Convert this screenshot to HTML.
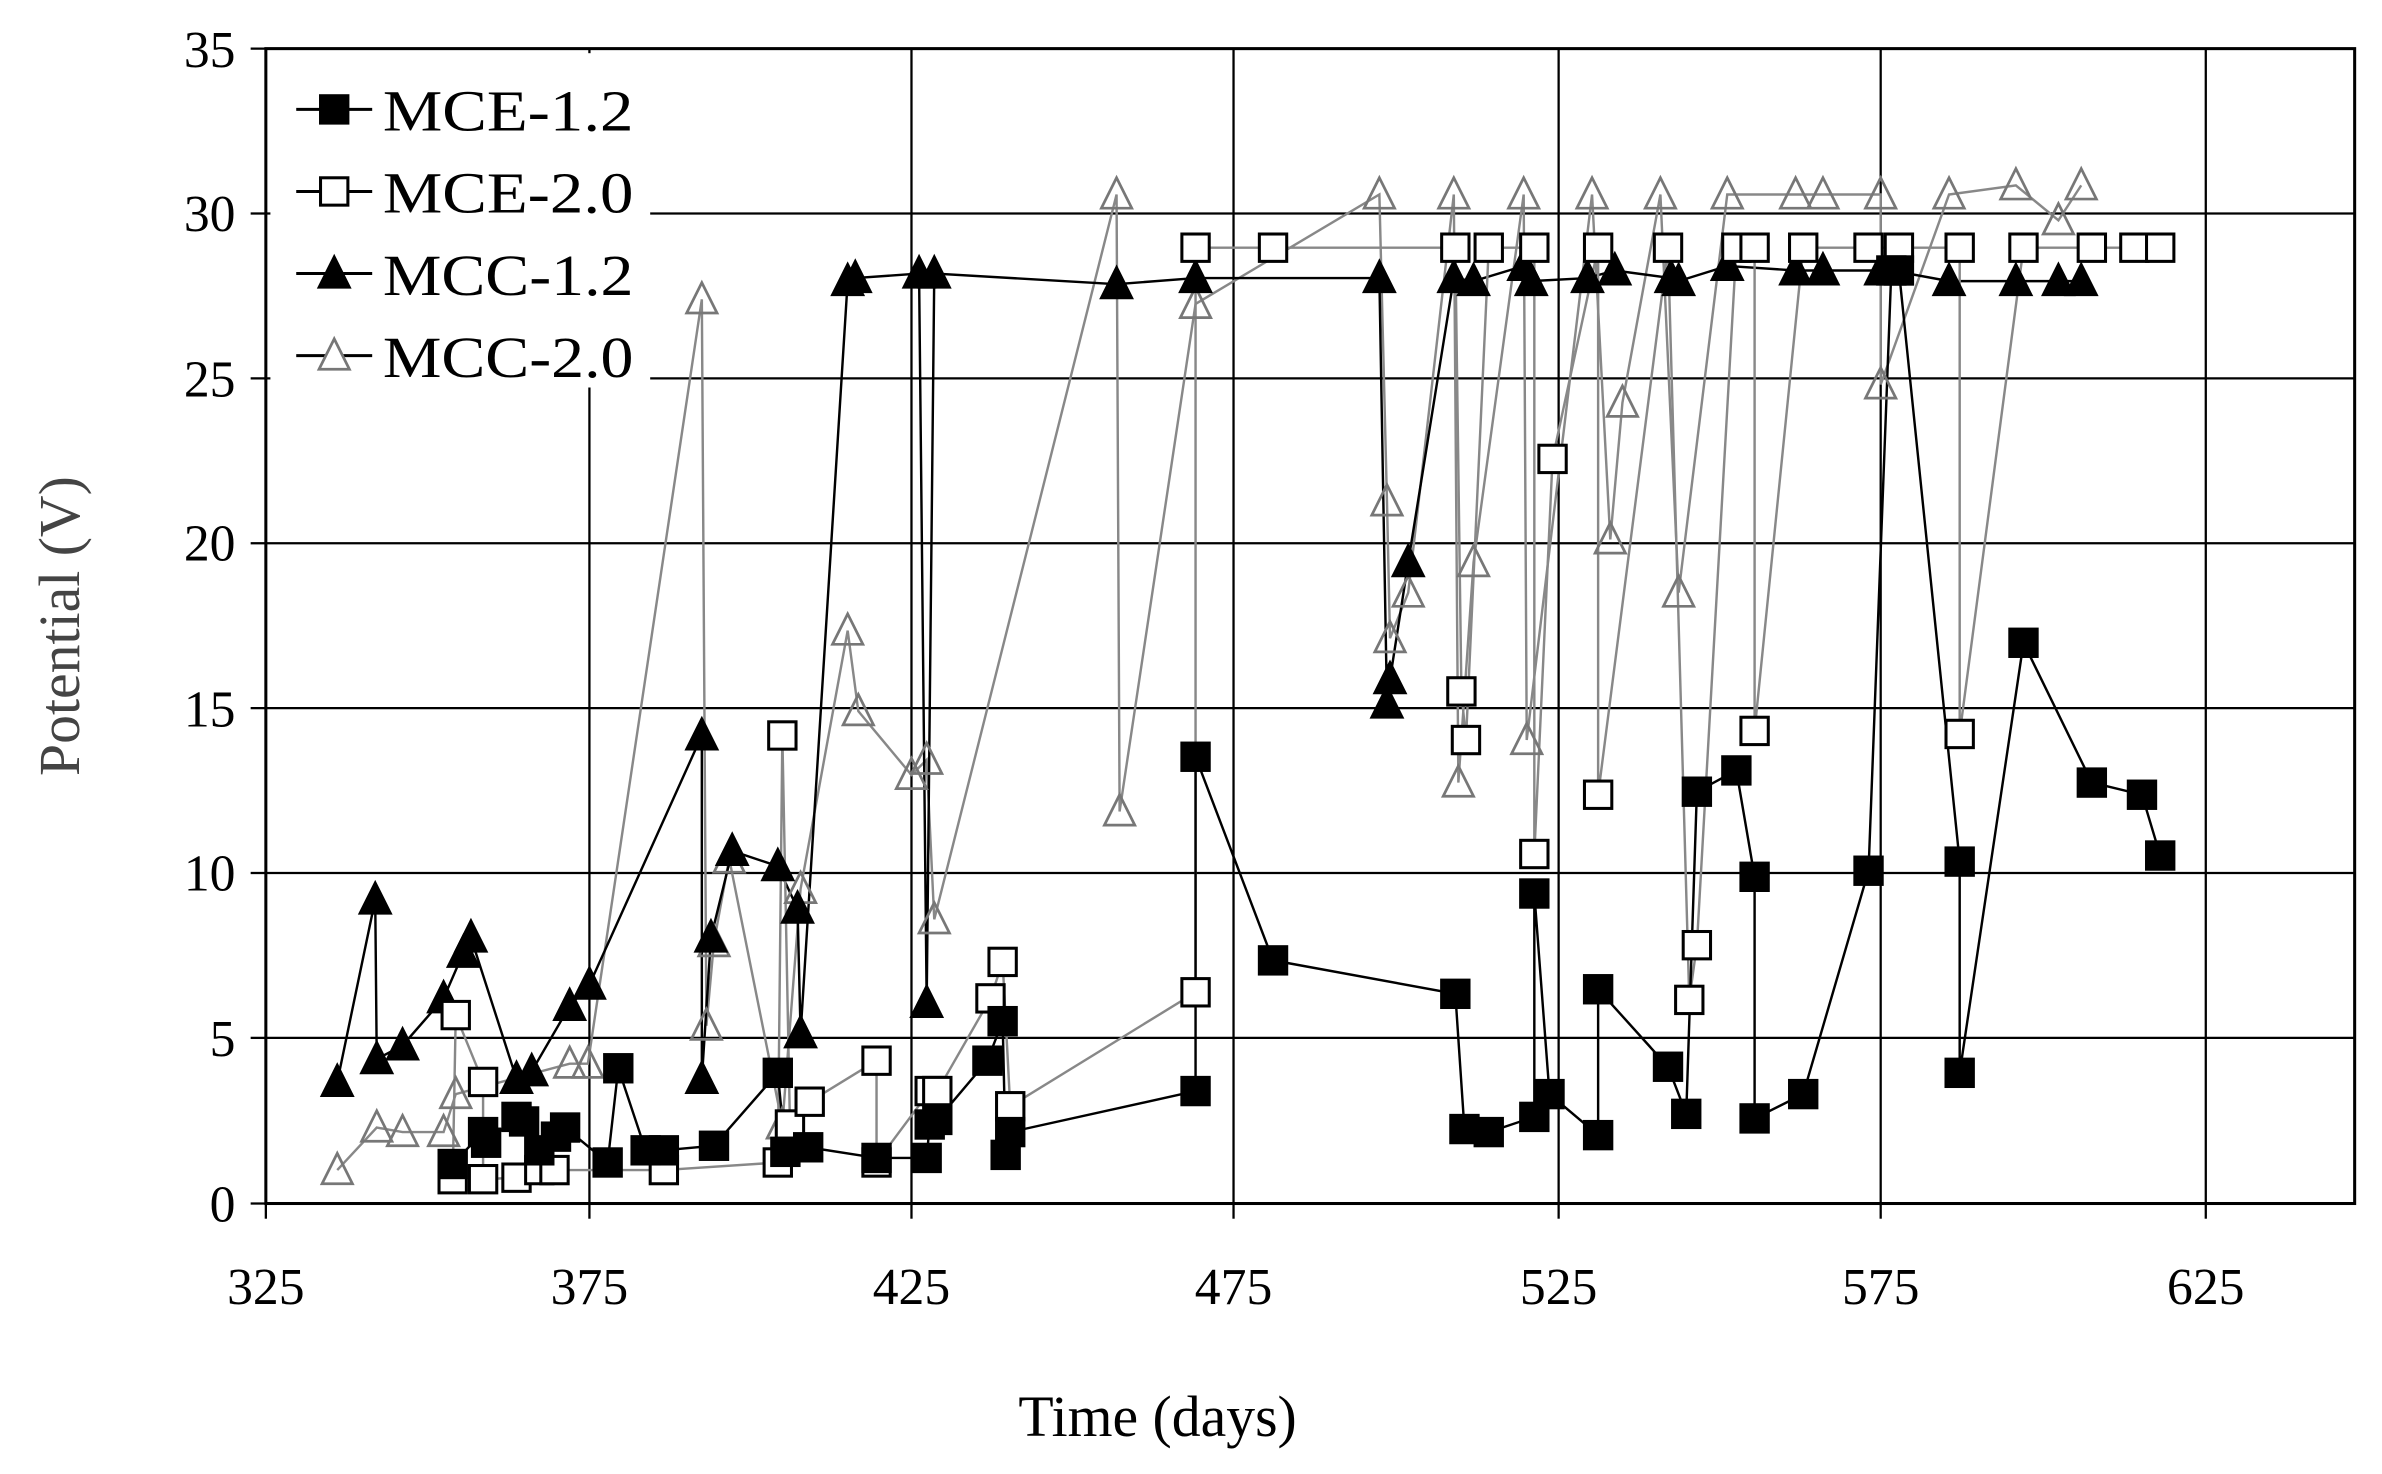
<!DOCTYPE html>
<html><head><meta charset="utf-8"><style>
html,body{margin:0;padding:0;background:#fff}
svg{display:block}
text{font-family:"Liberation Serif",serif}
</style></head><body>
<svg id="s" width="2382" height="1474" viewBox="0 0 1568 970" preserveAspectRatio="none" xmlns="http://www.w3.org/2000/svg">
<rect width="1568" height="970" fill="#fff"/>
<g stroke="#000" stroke-width="1.5" fill="none">
<line x1="175" y1="32" x2="1550" y2="32"/>
<line x1="175" y1="140.5" x2="1550" y2="140.5"/>
<line x1="175" y1="249" x2="1550" y2="249"/>
<line x1="175" y1="357.5" x2="1550" y2="357.5"/>
<line x1="175" y1="466" x2="1550" y2="466"/>
<line x1="175" y1="574.5" x2="1550" y2="574.5"/>
<line x1="175" y1="683" x2="1550" y2="683"/>
<line x1="388" y1="32" x2="388" y2="792"/>
<line x1="600" y1="32" x2="600" y2="792"/>
<line x1="812" y1="32" x2="812" y2="792"/>
<line x1="1026" y1="32" x2="1026" y2="792"/>
<line x1="1238" y1="32" x2="1238" y2="792"/>
<line x1="1452" y1="32" x2="1452" y2="792"/>
<rect x="175" y="32" width="1375" height="760" stroke-width="2"/>
</g>
<g id="ticks" stroke="#000" stroke-width="1.5"></g>
<g font-size="34" fill="#000" text-anchor="end">
<text x="155" y="44">35</text><text x="155" y="152">30</text><text x="155" y="261">25</text><text x="155" y="369">20</text><text x="155" y="478">15</text><text x="155" y="586">10</text><text x="155" y="695">5</text><text x="155" y="804">0</text>
</g>
<g font-size="34" fill="#000" text-anchor="middle">
<text x="175" y="858">325</text><text x="388" y="858">375</text><text x="600" y="858">425</text><text x="812" y="858">475</text><text x="1026" y="858">525</text><text x="1238" y="858">575</text><text x="1452" y="858">625</text>
<text x="762" y="945" font-size="38">Time (days)</text>
<text transform="translate(52,412) rotate(-90)" font-size="38" fill="#444">Potential (V)</text>
</g>
<rect x="178" y="35" width="250" height="220" fill="#fff"/>
<g id="plot"></g>
<g id="leg"></g>
<g font-size="38" fill="#000">
<text x="252" y="86" textLength="165" lengthAdjust="spacingAndGlyphs">MCE-1.2</text><text x="252" y="140" textLength="165" lengthAdjust="spacingAndGlyphs">MCE-2.0</text><text x="252" y="194" textLength="165" lengthAdjust="spacingAndGlyphs">MCC-1.2</text><text x="252" y="248" textLength="165" lengthAdjust="spacingAndGlyphs">MCC-2.0</text>
</g>
</svg>
<script>
var NS="http://www.w3.org/2000/svg";
function el(p,t,a){var e=document.createElementNS(NS,t);for(var k in a)e.setAttribute(k,a[k]);p.appendChild(e);return e;}
var plot=document.getElementById('plot');
function pts(s){var a=s.trim().split(/\s+/);var r=[];for(var i=0;i<a.length;i+=2)r.push([+a[i],+a[i+1]]);return r;}
var S=[
{c:"#888",fill:"none",m:"tri",d:pts("222 770 248 742 265 745 292 745 300 720 375 700 387 700 462 197 465 675 470 620 480 565 515 740 527 585 558 415 565 468 600 510 610 500 615 605 735 128 737 534 787 200 908 128 913 330 915 420 927 390 957 128 960 515 970 370 1003 128 1005 487 1048 128 1060 355 1068 265 1093 128 1105 390 1137 128 1182 128 1200 128 1238 128 1238 253 1283 128 1327 122 1355 145 1370 122")},
{c:"#000",fill:"#000",m:"tri",d:pts("222 712 247 592 248 697 265 688 292 657 305 627 310 617 340 710 350 705 375 662 388 648 462 484 462 710 468 617 482 560 512 570 525 598 527 680 558 185 563 183 605 180 610 660 615 180 735 187 787 183 908 183 913 463 915 447 927 370 957 183 970 185 1003 175 1008 185 1045 183 1063 178 1100 183 1105 185 1137 175 1182 178 1200 178 1238 178 1245 178 1283 185 1327 185 1355 185 1370 185")},
{c:"#888",fill:"#fff",m:"sq",d:pts("298 776 300 668 318 712 318 776 340 775 355 770 365 770 437 770 512 765 515 484 520 740 533 725 577 698 577 765 612 718 617 718 652 657 660 633 665 728 787 653 787 163 838 163 958 163 962 455 965 487 980 163 1010 163 1010 562 1022 302 1052 163 1052 523 1098 163 1112 658 1117 622 1143 163 1155 163 1155 481 1187 163 1230 163 1250 163 1290 163 1290 483 1332 163 1377 163 1405 163 1422 163")},
{c:"#000",fill:"#000",m:"sq",d:pts("298 766 318 745 320 752 340 735 345 738 355 757 366 748 372 742 400 765 407 703 425 757 437 757 470 754 512 706 517 758 532 755 577 762 610 762 612 740 617 737 650 698 660 672 662 760 665 745 787 718 787 498 838 632 958 654 964 743 980 745 1010 735 1010 588 1020 720 1052 747 1052 651 1098 702 1110 733 1117 521 1143 507 1155 577 1155 736 1187 720 1230 573 1245 178 1250 178 1290 567 1290 706 1332 423 1377 515 1410 523 1422 563")}
];
function marker(g,m,x,y,fill){
 if(m=="sq")el(g,"rect",{x:x-9,y:y-9,width:18,height:18,fill:fill,stroke:"#000","stroke-width":2});
 else el(g,"polygon",{points:(x)+","+(y-11)+" "+(x-10)+","+(y+9)+" "+(x+10)+","+(y+9),fill:fill,stroke:fill=="#000"?"#000":"#777","stroke-width":1.8});
}
S.forEach(function(s){
 el(plot,"polyline",{points:s.d.map(function(p){return p.join(",")}).join(" "),fill:"none",stroke:s.c,"stroke-width":1.6});
});
S.forEach(function(s){s.d.forEach(function(p){marker(plot,s.m,p[0],p[1],s.fill);});});
var leg=document.getElementById('leg');
[[72,"sq","#000"],[126,"sq","#fff"],[180,"tri","#000"],[234,"tri","#fff"]].forEach(function(a){
 el(leg,"line",{x1:195,y1:a[0],x2:245,y2:a[0],stroke:"#000","stroke-width":2});
 marker(leg,a[1],220,a[0],a[2]);
});
var t=document.getElementById('ticks');
[32,140.5,249,357.5,466,574.5,683,792].forEach(function(y){el(t,"line",{x1:165,y1:y,x2:175,y2:y});});
[175,388,600,812,1026,1238,1452].forEach(function(x){el(t,"line",{x1:x,y1:792,x2:x,y2:802});});
</script>
</body></html>
